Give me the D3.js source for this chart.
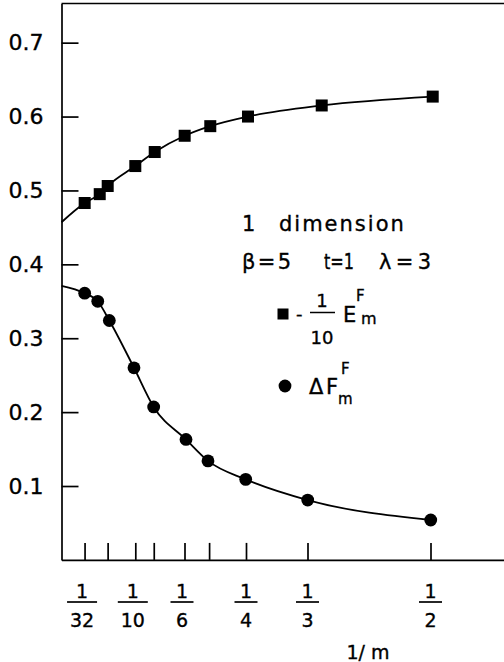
<!DOCTYPE html>
<html>
<head>
<meta charset="utf-8">
<script src="https://cdn.jsdelivr.net/npm/d3@7"></script>
<style>
  html, body { margin: 0; padding: 0; background: #fff; }
  svg { display: block; font-family: "DejaVu Sans", sans-serif; }
  text { fill: #000; stroke: #000; stroke-width: 0.35px; }
</style>
</head>
<body>
<script>
const W = 504, H = 662;

// data
const tickVals = [1/32, 1/16, 1/10, 1/8, 1/6, 1/5, 1/4, 1/3, 1/2];
const labelDenoms = [32, 10, 6, 4, 3, 2];
const yTicks = [0.1, 0.2, 0.3, 0.4, 0.5, 0.6, 0.7];

const energyX = [0.0314, 0.0518, 0.0626, 0.1000, 0.1263, 0.1669, 0.2016, 0.2527, 0.3526, 0.5030];
const energyY = [0.483, 0.495, 0.506, 0.533, 0.552, 0.574, 0.587, 0.600, 0.615, 0.627];
const energyAt0 = 0.457;

const freeX = [0.0314, 0.0491, 0.0648, 0.0982, 0.1249, 0.1687, 0.1985, 0.2496, 0.3336, 0.5003];
const freeY = [0.361, 0.350, 0.324, 0.260, 0.207, 0.163, 0.134, 0.109, 0.081, 0.054];
const freeAt0 = 0.371;

const x = d3.scaleLinear().domain([0, 0.6]).range([61.5, 504.3]);
const y = d3.scaleLinear().domain([0, 0.753]).range([559.9, 3.5]);

const svg = d3.select('body')
  .append('svg')
  .attr('width', W)
  .attr('height', H)
  .attr('viewBox', [0, 0, W, H]);

// top frame line
svg.append('line')
  .attr('x1', x(0)).attr('x2', W)
  .attr('y1', y(0.753)).attr('y2', y(0.753))
  .attr('stroke', '#000')
  .attr('stroke-width', 1.7);

const yAxis = svg.append('g')
  .attr('transform', `translate(${x(0)},0)`)
  .call(d3.axisLeft(y)
    .tickValues(yTicks)
    .tickSizeInner(-17)
    .tickSizeOuter(0)
    .tickPadding(18)
    .tickFormat(d3.format('.1f')));

yAxis.selectAll('text')
  .attr('font-size', 22)
  .attr('font-family', '"DejaVu Sans", sans-serif');

svg.append('g')
  .attr('transform', `translate(0,${y(0)})`)
  .call(d3.axisBottom(x)
    .tickValues(tickVals)
    .tickSizeInner(-17)
    .tickSizeOuter(0)
    .tickFormat(''));

svg.selectAll('.domain, .tick line')
  .attr('stroke', '#000')
  .attr('stroke-width', 1.7);

// fraction labels under the x axis
const frac = svg.append('g')
  .selectAll('g')
  .data(labelDenoms)
  .join('g')
    .attr('transform', d => `translate(${x(1 / d) - (d > 5 ? 2.5 : 0)},0)`);

frac.append('text')
  .attr('y', 598)
  .attr('text-anchor', 'middle')
  .attr('font-size', 19)
  .text('1');

frac.append('line')
  .attr('x1', d => d > 9 ? -15 : -11.5)
  .attr('x2', d => d > 9 ? 15 : 11.5)
  .attr('y1', 602).attr('y2', 602)
  .attr('stroke', '#000')
  .attr('stroke-width', 1.7);

frac.append('text')
  .attr('y', 627)
  .attr('text-anchor', 'middle')
  .attr('font-size', 19)
  .text(d => d);

svg.append('text')
  .attr('x', 368)
  .attr('y', 659)
  .attr('text-anchor', 'middle')
  .attr('font-size', 19)
  .text('1/ m');

// curves
const line = d3.line()
  .x(d => x(d[0]))
  .y(d => y(d[1]))
  .curve(d3.curveMonotoneX);

const energyPts = [[0, energyAt0]].concat(energyX.map((v, i) => [v, energyY[i]]));
const freePts = [[0, freeAt0]].concat(freeX.map((v, i) => [v, freeY[i]]));

svg.append('path')
  .attr('d', line(energyPts))
  .attr('fill', 'none')
  .attr('stroke', '#000')
  .attr('stroke-width', 1.8);

svg.append('path')
  .attr('d', line(freePts))
  .attr('fill', 'none')
  .attr('stroke', '#000')
  .attr('stroke-width', 1.8);

const sq = 12;
svg.append('g')
  .selectAll('rect')
  .data(energyX)
  .join('rect')
    .attr('x', d => x(d) - sq / 2)
    .attr('y', (d, i) => y(energyY[i]) - sq / 2)
    .attr('width', sq)
    .attr('height', sq)
    .attr('fill', '#000');

svg.append('g')
  .selectAll('circle')
  .data(freeX)
  .join('circle')
    .attr('cx', d => x(d))
    .attr('cy', (d, i) => y(freeY[i]))
    .attr('r', 6.4)
    .attr('fill', '#000');

// legend / annotation
const note = svg.append('g').attr('font-size', 21);

note.append('text')
  .attr('x', 242).attr('y', 230.5)
  .text('1');
note.append('text')
  .attr('x', 279).attr('y', 230.5)
  .attr('letter-spacing', 2)
  .text('dimension');

note.append('text').attr('x', 242).attr('y', 269)
  .attr('textLength', 49).attr('lengthAdjust', 'spacing').text('β=5');
note.append('text').attr('x', 324).attr('y', 269)
  .attr('textLength', 30).attr('lengthAdjust', 'spacingAndGlyphs').text('t=1');
note.append('text').attr('x', 379).attr('y', 269)
  .attr('textLength', 52).attr('lengthAdjust', 'spacing').text('λ=3');

note.append('rect')
  .attr('x', 277.5).attr('y', 308.5)
  .attr('width', 11).attr('height', 11)
  .attr('fill', '#000');
note.append('text').attr('x', 296).attr('y', 320).attr('font-size', 18).text('-');
note.append('text').attr('x', 322).attr('y', 307).attr('text-anchor', 'middle').attr('font-size', 18).text('1');
note.append('line')
  .attr('x1', 310).attr('x2', 335)
  .attr('y1', 312.5).attr('y2', 312.5)
  .attr('stroke', '#000').attr('stroke-width', 1.5);
note.append('text').attr('x', 322).attr('y', 344).attr('text-anchor', 'middle').attr('font-size', 18).text('10');
note.append('text').attr('x', 343).attr('y', 322).text('E');
note.append('text').attr('x', 356).attr('y', 301).attr('font-size', 15).text('F');
note.append('text').attr('x', 361).attr('y', 324).attr('font-size', 16).text('m');

note.append('circle')
  .attr('cx', 285).attr('cy', 386)
  .attr('r', 6.4)
  .attr('fill', '#000');
note.append('text').attr('x', 309).attr('y', 393.5).text('Δ');
note.append('text').attr('x', 326).attr('y', 393.5).text('F');
note.append('text').attr('x', 341).attr('y', 374).attr('font-size', 15).text('F');
note.append('text').attr('x', 338).attr('y', 404).attr('font-size', 15).text('m');
</script>
</body>
</html>
